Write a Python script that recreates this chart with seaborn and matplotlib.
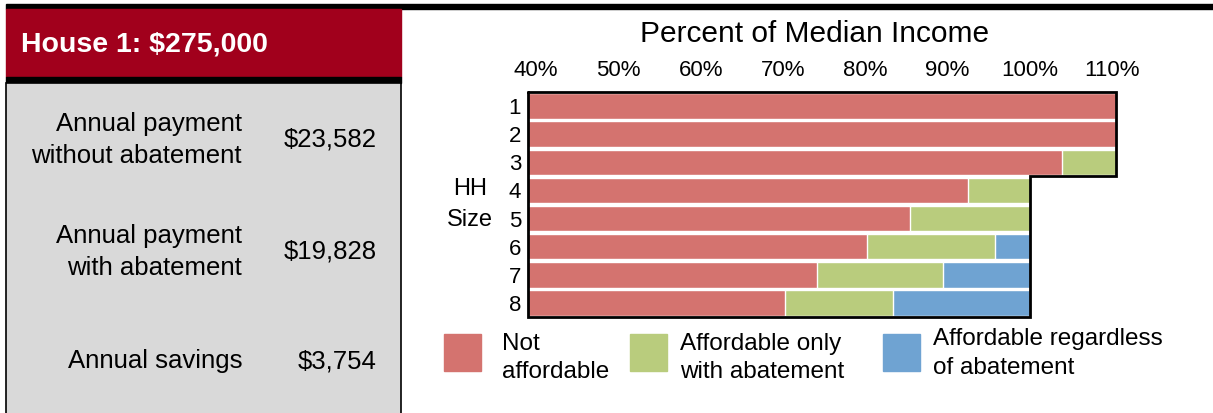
import pandas as pd
import seaborn as sns
import matplotlib.pyplot as plt
from matplotlib.patches import Rectangle

# Datos
hh_sizes = ["1", "2", "3", "4", "5", "6", "7", "8"]
not_affordable_to = [110.5, 110.5, 103.9, 92.5, 85.5, 80.2, 74.1, 70.3]
abatement_only_to = [110.5, 110.5, 110.5, 100, 100, 95.8, 89.5, 83.4]
regardless_to = [110.5, 110.5, 110.5, 100, 100, 100, 100, 100]
tick_values = [40, 50, 60, 70, 80, 90, 100, 110]
tick_labels = [f"{v}%" for v in tick_values]
legend_labels = ["Not\naffordable", "Affordable only\nwith abatement",
                 "Affordable regardless\nof abatement"]
bar_colors = ["#D4736F", "#B9CC7D", "#6FA3D2"]
summary_labels = ["Annual payment\nwithout abatement", "Annual payment\nwith abatement",
                  "Annual savings"]
summary_values = ["$23,582", "$19,828", "$3,754"]
house_title = "House 1: $275,000"

sns.set_style("white")
plt.rcParams['font.family'] = ['Liberation Sans', 'DejaVu Sans']
plt.rcParams['text.color'] = 'black'
plt.rcParams['xtick.color'] = 'black'
plt.rcParams['ytick.color'] = 'black'

W, H = 1213, 413
fig = plt.figure(figsize=(W / 100, H / 100), dpi=100)

# capa de fondo en pixeles para el panel izquierdo, titulo y leyenda
bg = fig.add_axes([0, 0, 1, 1], zorder=0)
bg.set_xlim(0, W)
bg.set_ylim(H, 0)
bg.axis('off')

bg.add_patch(Rectangle((6, 4), W - 6, 5, color='black'))
bg.add_patch(Rectangle((6, 9), 395, 68, color='#A1001C'))
bg.add_patch(Rectangle((6, 77), 395, 6, color='black'))
bg.add_patch(Rectangle((6, 83), 395, 335, facecolor='#D9D9D9', edgecolor='black', lw=1.2))
bg.text(21, 44, house_title, color='white', fontsize=20.5, fontweight='bold',
        ha='left', va='center')

for y, lab, val in zip([140, 252, 361], summary_labels, summary_values):
    bg.text(242, y, lab, fontsize=18.5, ha='right', va='center', linespacing=1.4)
    bg.text(377, y, val, fontsize=18.5, ha='right', va='center')

bg.text(815, 34, "Percent of Median Income", fontsize=21.5, ha='center', va='center')
bg.text(470, 189, "HH", fontsize=17, ha='center', va='center')
bg.text(470, 220, "Size", fontsize=17, ha='center', va='center')

# leyenda manual
for x_patch, x_text, y_text, lab, col in zip([444, 630, 883], [502, 680, 933],
                                             [358, 358, 353.5], legend_labels, bar_colors):
    bg.add_patch(Rectangle((x_patch, 334), 37, 37, color=col))
    bg.text(x_text, y_text, lab, fontsize=17.5, ha='left', va='center', linespacing=1.4)

# grafico de barras apiladas
ax = fig.add_axes([528 / W, 1 - 317 / H, (1116 - 528) / W, (317 - 92) / H], zorder=1)
ax.patch.set_alpha(0)

df = pd.DataFrame({
    'hh': hh_sizes,
    'not_affordable': not_affordable_to,
    'abatement_only': abatement_only_to,
    'regardless': regardless_to,
})

# se dibuja de atras hacia adelante: cada capa tapa la anterior
for col, color in zip(['regardless', 'abatement_only', 'not_affordable'], bar_colors[::-1]):
    sns.barplot(data=df, x=col, y='hh', color=color, orient='h', width=0.91,
                saturation=1, ax=ax)

ax.set_xlim(39, 110.5)
ax.set_ylim(7.5, -0.5)

# contorno escalonado segun el final de cada fila
xs, ys = [39], [-0.5]
for i, end in enumerate(regardless_to):
    xs += [end, end]
    ys += [i - 0.5, i + 0.5]
xs += [39, 39]
ys += [7.5, -0.5]
ax.plot(xs, ys, color='black', lw=2, clip_on=False, solid_joinstyle='miter')

ax.xaxis.tick_top()
ax.set_xticks(tick_values, tick_labels)
ax.tick_params(axis='x', length=0, pad=8, labelsize=16)
ax.tick_params(axis='y', length=0, pad=5, labelsize=16)
ax.set_xlabel('')
ax.set_ylabel('')
sns.despine(ax=ax, left=True, bottom=True)

fig.savefig('out.png', dpi=100)
